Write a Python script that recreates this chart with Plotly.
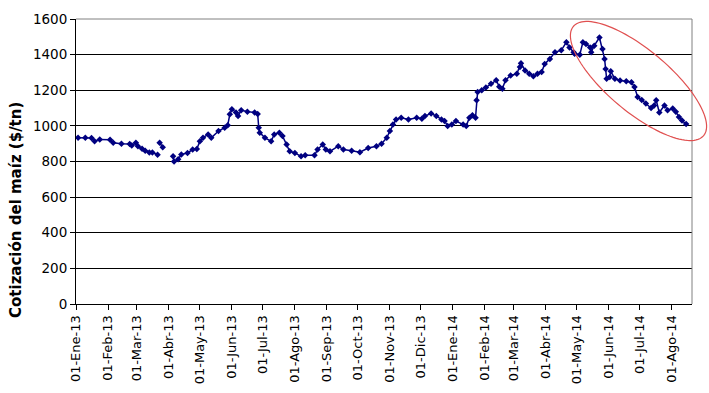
import numpy as np
import plotly.graph_objects as go

# ---- data ----
dates = [
    "2013-01-03", "2013-01-10", "2013-01-16", "2013-01-19", "2013-01-24", "2013-02-03",
    "2013-02-06", "2013-02-14", "2013-02-22", "2013-02-24", "2013-02-28", "2013-03-02",
    "2013-03-06", "2013-03-09", "2013-03-13", "2013-03-16", "2013-03-21", "2013-03-22",
    "2013-03-23", "2013-03-26", "2013-03-30",
    "2013-04-05", "2013-04-06", "2013-04-10", "2013-04-13", "2013-04-19", "2013-04-24",
    "2013-04-28", "2013-05-01", "2013-05-04", "2013-05-09", "2013-05-12", "2013-05-19",
    "2013-05-25", "2013-05-28", "2013-05-30", "2013-06-01", "2013-06-05", "2013-06-07",
    "2013-06-10", "2013-06-16", "2013-06-23", "2013-06-26", "2013-06-27", "2013-06-28",
    "2013-07-03", "2013-07-09", "2013-07-12", "2013-07-17", "2013-07-20", "2013-07-24",
    "2013-07-27", "2013-08-01", "2013-08-07", "2013-08-11", "2013-08-20", "2013-08-23",
    "2013-08-28", "2013-08-31", "2013-09-04", "2013-09-12", "2013-09-17", "2013-09-25",
    "2013-10-03", "2013-10-11", "2013-10-19", "2013-10-24", "2013-10-29", "2013-11-01",
    "2013-11-04", "2013-11-07", "2013-11-12", "2013-11-19", "2013-11-27", "2013-12-02",
    "2013-12-05", "2013-12-11", "2013-12-16", "2013-12-21", "2013-12-24", "2013-12-27",
    "2013-12-31", "2014-01-04", "2014-01-11", "2014-01-14", "2014-01-17", "2014-01-20",
    "2014-01-23", "2014-01-24", "2014-01-25", "2014-01-29", "2014-02-02", "2014-02-07",
    "2014-02-12", "2014-02-15", "2014-02-18", "2014-02-21", "2014-02-26", "2014-03-04",
    "2014-03-07", "2014-03-08", "2014-03-12", "2014-03-16", "2014-03-20", "2014-03-24",
    "2014-03-28", "2014-03-31", "2014-04-05", "2014-04-10", "2014-04-16", "2014-04-21",
    "2014-04-24", "2014-04-28", "2014-04-29", "2014-05-04", "2014-05-07", "2014-05-10",
    "2014-05-14", "2014-05-15", "2014-05-18", "2014-05-23", "2014-05-26", "2014-05-28",
    "2014-05-29", "2014-05-30", "2014-06-02", "2014-06-03", "2014-06-07", "2014-06-12",
    "2014-06-18", "2014-06-23", "2014-06-26", "2014-06-29", "2014-07-03", "2014-07-07",
    "2014-07-12", "2014-07-15", "2014-07-17", "2014-07-20", "2014-07-25", "2014-07-28",
    "2014-08-02", "2014-08-05", "2014-08-08", "2014-08-11", "2014-08-15",
]
prices = [
    934, 934, 932, 914, 924, 922,
    905, 900, 898, 890, 905, 886,
    871, 860, 851, 851, 838, None,
    905, 880, None,
    829, 800, 812, 840, 848, 867,
    870, 914, 934, 952, 933, 971,
    990, 1004, 1065, 1094, 1075, 1055,
    1088, 1080, 1075, 1066, 990, 962,
    933, 914, 952, 962, 943, 895,
    857, 848, 829, 835, 835, 867,
    895, 867, 857, 886, 867, 860,
    852, 876, 886, 900, 933, 971,
    1008, 1036, 1046, 1036, 1046, 1040,
    1055, 1070, 1055, 1036, 1027, 1000,
    1008, 1027, 1008, 1000, 1046, 1060,
    1046, 1144, 1190, 1200, 1215, 1237,
    1256, 1220, 1209, 1256, 1283, 1292,
    1330, 1352, 1311, 1292, 1278, 1292,
    1302, 1348, 1376, 1414, 1424, 1470,
    1440, 1414, 1405, 1400, 1470, 1460,
    1440, 1414, 1450, 1496, 1432, 1376,
    1320, 1264, 1275, 1306, 1264, 1255,
    1250, 1245, 1218, 1162, 1145, 1125,
    1100, 1115, 1144, 1075, 1115, 1088,
    1097, 1080, 1050, 1030, 1010,
]
tick_dates = [
    "2013-01-01", "2013-02-01", "2013-03-01", "2013-04-01", "2013-05-01", "2013-06-01",
    "2013-07-01", "2013-08-01", "2013-09-01", "2013-10-01", "2013-11-01", "2013-12-01",
    "2014-01-01", "2014-02-01", "2014-03-01", "2014-04-01", "2014-05-01", "2014-06-01",
    "2014-07-01", "2014-08-01",
]
tick_labels = [
    "01-Ene-13", "01-Feb-13", "01-Mar-13", "01-Abr-13", "01-May-13", "01-Jun-13",
    "01-Jul-13", "01-Ago-13", "01-Sep-13", "01-Oct-13", "01-Nov-13", "01-Dic-13",
    "01-Ene-14", "01-Feb-14", "01-Mar-14", "01-Abr-14", "01-May-14", "01-Jun-14",
    "01-Jul-14", "01-Ago-14",
]
y_ticks = [0, 200, 400, 600, 800, 1000, 1200, 1400, 1600]
y_title = "Cotización del maíz ($/tn)"

W, H = 709, 393
L, R, T, B = 76, 17, 19, 89
FONT = "DejaVu Sans"
NAVY = "#000080"
pw, ph = W - L - R, H - T - B

fig = go.Figure()
fig.add_trace(go.Scatter(
    x=dates, y=prices, mode="lines+markers", connectgaps=False,
    line=dict(color=NAVY, width=1.5),
    marker=dict(symbol="diamond", size=5, color=NAVY),
    showlegend=False, hoverinfo="x+y",
))

# plot-area border (top and right, gray)
fig.add_shape(type="line", xref="paper", yref="paper", x0=0, x1=1, y0=1, y1=1,
              line=dict(color="#808080", width=1), layer="above")
fig.add_shape(type="line", xref="paper", yref="paper", x0=1, x1=1, y0=0, y1=1,
              line=dict(color="#808080", width=1), layer="above")

# red ellipse annotation (drawn in pixel space, converted to paper coords)
cx, cy, a, b, ang = 638.5, 81.0, 85.0, 31.0, np.deg2rad(40)
t = np.linspace(0, 2 * np.pi, 120)
px = cx + a * np.cos(t) * np.cos(ang) - b * np.sin(t) * np.sin(ang)
py = cy + a * np.cos(t) * np.sin(ang) + b * np.sin(t) * np.cos(ang)
ux = (px - L) / pw
uy = (H - B - py) / ph
path = "M " + " L ".join(f"{u:.5f},{v:.5f}" for u, v in zip(ux, uy)) + " Z"
fig.add_shape(type="path", xref="paper", yref="paper", path=path,
              line=dict(color="#E05050", width=1.2), layer="above")

# y-axis title (placed like the reference, lower than the plot centre)
fig.add_annotation(
    text=y_title, xref="paper", yref="paper",
    x=(16 - L) / pw, y=(H - B - 210) / ph,
    xanchor="center", yanchor="middle", textangle=-90, showarrow=False,
    font=dict(family=FONT, size=15, color="#000000", weight="bold"),
)

fig.update_layout(
    width=W, height=H,
    margin=dict(l=L, r=R, t=T, b=B, pad=0, autoexpand=False),
    paper_bgcolor="white", plot_bgcolor="white",
    font=dict(family=FONT, size=13, color="#000000"),
    xaxis=dict(
        type="date", range=["2013-01-01", "2014-08-20 16:00"], automargin=False,
        tickmode="array", tickvals=tick_dates, ticktext=tick_labels,
        tickangle=-90, tickfont=dict(family=FONT, size=13, color="#000000"),
        ticks="outside", ticklen=5, tickcolor="#000000",
        showline=True, linecolor="#000000", linewidth=1,
        showgrid=False, zeroline=False,
    ),
    yaxis=dict(
        range=[0, 1600], tickmode="array", tickvals=y_ticks, automargin=False,
        tickfont=dict(family=FONT, size=13.5, color="#000000"),
        ticks="outside", ticklen=5, tickcolor="#000000",
        showline=True, linecolor="#000000", linewidth=1,
        showgrid=True, gridcolor="#000000", gridwidth=1,
        zeroline=False,
    ),
)

fig.write_html(
    "out.html",
    config={"displayModeBar": False},
    post_script="document.body.style.margin='0';document.body.style.overflow='hidden';",
)
